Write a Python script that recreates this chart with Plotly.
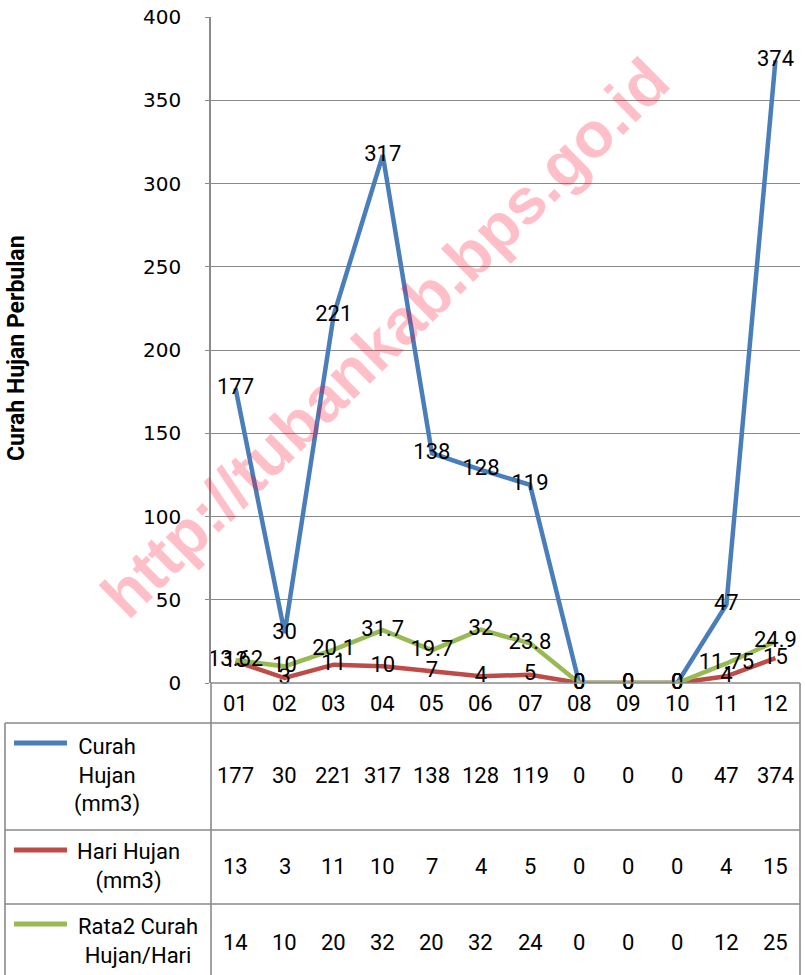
import plotly.graph_objects as go

months = ["01", "02", "03", "04", "05", "06", "07", "08", "09", "10", "11", "12"]
curah_hujan = [177, 30, 221, 317, 138, 128, 119, 0, 0, 0, 47, 374]
hari_hujan = [13, 3, 11, 10, 7, 4, 5, 0, 0, 0, 4, 15]
rata2 = [13.62, 10, 20.1, 31.7, 19.7, 32, 23.8, 0, 0, 0, 11.75, 24.9]

series_names = ["Curah<br>Hujan<br>(mm3)", "Hari Hujan<br>(mm3)", "Rata2 Curah<br>Hujan/Hari"]
y_title = "Curah Hujan Perbulan"
watermark = "http://tubankab.bps.go.id"

W, H = 805, 975
L, R, T, B = 211, 800, 17, 683
colors = ["#4A7EBB", "#BE4B48", "#98B954"]
GRID = "#8a8a8a"
FONT = "Liberation Sans Narrow, Roboto, sans-serif"
FS = 22


def px(x):
    return (x - L) / (R - L)


def py(y):
    return (B - y) / (B - T)


fig = go.Figure()
all_series = [curah_hujan, hari_hujan, rata2]
idx = list(range(len(months)))
for vals, col in zip(all_series, colors):
    fig.add_trace(go.Scatter(
        x=idx, y=vals, mode="lines+text",
        line=dict(color=col, width=4.5),
        text=[f"{v:g}" for v in vals],
        textposition="middle center",
        textfont=dict(family=FONT, size=FS, color="#000"),
        cliponaxis=False, showlegend=False, hoverinfo="skip",
    ))

ann = []
# month labels
for i, m in enumerate(months):
    ann.append(dict(x=i, xref="x", y=py(703), yref="paper", text=m, showarrow=False,
                    font=dict(family=FONT, size=FS, color="#000"), yanchor="middle", xanchor="center"))
# table values
row_centers = [776, 866, 942]
key_y = [743, 850, 924]
for r, vals in enumerate(all_series):
    for i, v in enumerate(vals):
        ann.append(dict(x=i, xref="x", y=py(row_centers[r]), yref="paper",
                        text=f"{round(v):d}", showarrow=False,
                        font=dict(family=FONT, size=FS, color="#000"), yanchor="middle", xanchor="center"))
# series names
name_x = [107, 128, 138]
name_y = [776, 866, 941]
for i, nm in enumerate(series_names):
    ann.append(dict(x=px(name_x[i]), xref="paper", y=py(name_y[i]),
                    yref="paper", text=nm, showarrow=False, align="center",
                    font=dict(family=FONT, size=FS, color="#000"), yanchor="middle", xanchor="center"))
# y title
ann.append(dict(x=px(17), xref="paper", y=py(348), yref="paper", text=f"<b>{y_title}</b>",
                textangle=-90, showarrow=False, xanchor="center", yanchor="middle",
                font=dict(family=FONT, size=23, color="#000")))
# watermark
ann.append(dict(x=px(385), xref="paper", y=py(338), yref="paper", text=f"<b>{watermark}</b>",
                textangle=-44.5, showarrow=False, xanchor="center", yanchor="middle",
                font=dict(family="Liberation Sans, Arial, sans-serif", size=64, color="rgba(255,0,40,0.25)")))

shapes = []
lw = 1.6
def hline(y, x0, x1):
    shapes.append(dict(type="line", xref="paper", yref="paper", x0=px(x0), x1=px(x1), y0=py(y), y1=py(y),
                       line=dict(color=GRID, width=lw)))
def vline(x, y0, y1):
    shapes.append(dict(type="line", xref="paper", yref="paper", x0=px(x), x1=px(x), y0=py(y0), y1=py(y1),
                       line=dict(color=GRID, width=lw)))

hline(683, 211, 800)
hline(723, 5, 800)
hline(830, 5, 800)
hline(904, 5, 800)
vline(5, 723, 980)
vline(211, 683, 980)
vline(800, 683, 980)
for i, col in enumerate(colors):
    shapes.append(dict(type="line", xref="paper", yref="paper", x0=px(14), x1=px(67),
                       y0=py(key_y[i]), y1=py(key_y[i]), line=dict(color=col, width=5)))

fig.update_layout(
    width=W, height=H, autosize=False,
    margin=dict(l=L, r=W - R, t=T, b=H - B, pad=0),
    paper_bgcolor="white", plot_bgcolor="white",
    xaxis=dict(range=[-0.5, 11.5], showticklabels=False, showgrid=False,
               zeroline=False, showline=False, ticks=""),
    yaxis=dict(range=[0, 400], dtick=50, tick0=0, showgrid=True, gridcolor=GRID, gridwidth=1.3,
               showline=True, linecolor=GRID, linewidth=1.6, ticks="outside", ticklen=4,
               tickcolor=GRID, zeroline=False, ticklabelstandoff=20,
               tickfont=dict(family="DejaVu Sans, Verdana, sans-serif", size=20, color="#000")),
    annotations=ann, shapes=shapes,
)

fig.write_html("out.html", config={"displayModeBar": False},
               post_script="document.body.style.margin='0px';document.body.style.overflow='hidden';")
